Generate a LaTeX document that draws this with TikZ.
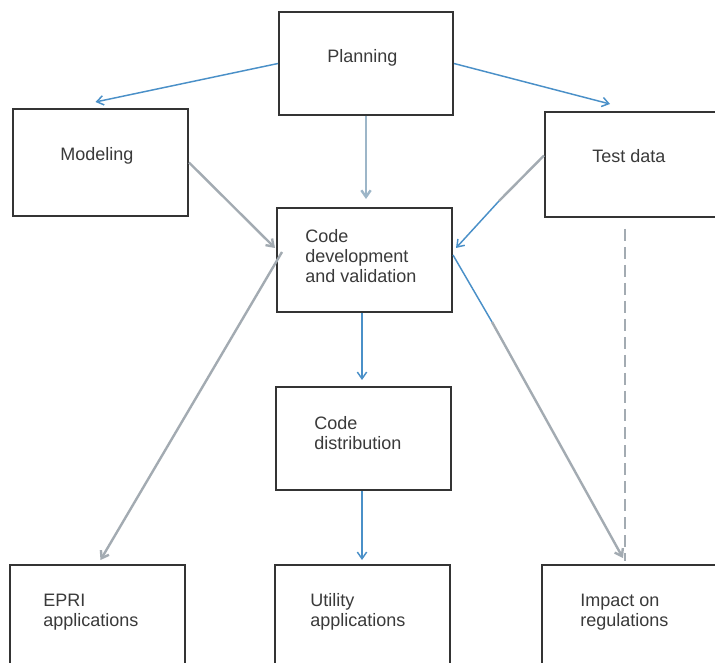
\documentclass[tikz,border=0pt]{standalone}
\usepackage{fontspec}
\setmainfont{Liberation Sans}
\usetikzlibrary{arrows.meta,calc}
\definecolor{inkgray}{HTML}{3A3A3A}
\definecolor{flowblue}{HTML}{4A90C8}
\definecolor{flowgray}{HTML}{A3ABB2}
\definecolor{flowsteel}{HTML}{9DB6C8}
\tikzset{
  box/.style={draw=inkgray!90!black, line width=1.5pt, rectangle, inner sep=0pt},
  lbl/.style={anchor=west, align=left, text=inkgray, inner sep=0pt,
              font=\fontsize{13.5}{15}\selectfont},
  tip/.style={-{Straight Barb[length=5pt,width=7pt]}},
  blueflow/.style={draw=flowblue, line width=1.1pt},
  grayflow/.style={draw=flowgray, line width=1.8pt},
  steelflow/.style={draw=flowsteel, line width=1.8pt},
}
\begin{document}
\begin{tikzpicture}[x=0.75pt, y=-0.75pt]
\clip (0,0) rectangle (715,663);
\fill[white] (0,0) rectangle (715,663);

% boxes
\node[box, minimum width=174*0.75pt, minimum height=103*0.75pt] (plan) at (366,63.5) {};
\node[box, minimum width=175*0.75pt, minimum height=107*0.75pt] (model) at (100.5,162.5) {};
\node[box, minimum width=185*0.75pt, minimum height=105*0.75pt] (test) at (637.5,164.5) {};
\node[box, minimum width=175*0.75pt, minimum height=104*0.75pt] (dev) at (364.5,260) {};
\node[box, minimum width=175*0.75pt, minimum height=103*0.75pt] (dist) at (363.5,438.5) {};
\node[box, minimum width=175*0.75pt, minimum height=115*0.75pt] (epri) at (97.5,622.5) {};
\node[box, minimum width=175*0.75pt, minimum height=115*0.75pt] (util) at (362.5,622.5) {};
\node[box, minimum width=188*0.75pt, minimum height=115*0.75pt] (impact) at (636,622.5) {};

% labels
\node[lbl] (planT) at (327,58) {Planning};
\node[lbl] (modelT) at (60,156) {Modeling};
\node[lbl] (testT) at (592,156) {Test data};
\node[lbl] (devT) at (305,256) {Code\\development\\and validation};
\node[lbl] (distT) at (314,433) {Code\\distribution};
\node[lbl] (epriT) at (43,612) {EPRI\\applications};
\node[lbl] (utilT) at (310,612) {Utility\\applications};
\node[lbl] (impactT) at (580,612) {Impact on\\regulations};

% turning points where a connector changes tone
\coordinate (testMid) at (499,201);
\coordinate (devMid) at (492,322);

% connectors
\draw[blueflow, tip] (plan.west) -- ($(model.north)+(-5,-6)$);
\draw[blueflow, tip] (plan.east) -- ($(test.north west)+(66,-7)$);
\draw[steelflow, tip] (plan.south) -- ($(dev.north)+(1.5,-8)$);
\draw[grayflow, tip] (model.east) -- ($(dev.west)+(-1,-12)$);
\draw[grayflow] ($(test.west)+(0,-9)$) -- (testMid);
\draw[blueflow, tip] (testMid) -- ($(dev.east)+(3,-12)$);
\draw[grayflow, tip] ($(dev.west)+(6,-8)$) -- ($(epri.north)+(3,-4)$);
\draw[blueflow] ($(dev.east)+(0,-5)$) -- (devMid);
\draw[grayflow, tip] (devMid) -- ($(impact.north west)+(82,-6)$);
\draw[blueflow, tip] ($(dev.south)+(-2.5,0)$) -- ($(dist.north)+(-1.5,-6)$);
\draw[blueflow, tip] ($(dist.south)+(-1.5,0)$) -- ($(util.north)+(-0.5,-4)$);
\draw[grayflow, line width=1.6pt, dash pattern=on 9pt off 4.5pt]
  ($(test.south west)+(81,11)$) -- ($(impact.north west)+(84,-3)$);
\end{tikzpicture}
\end{document}
